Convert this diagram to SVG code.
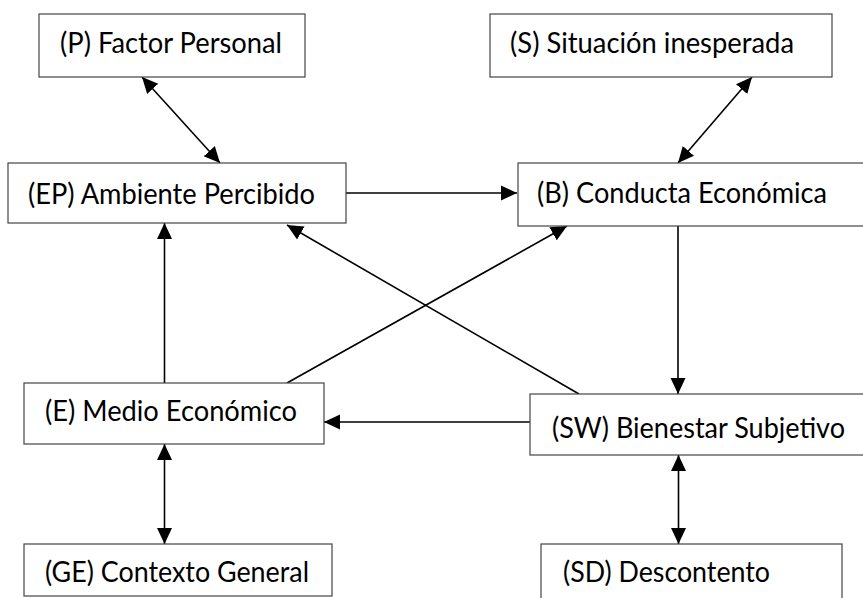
<svg xmlns="http://www.w3.org/2000/svg" width="863" height="598" viewBox="0 0 863 598">
<style>
.box{fill:#fff;stroke:#444;stroke-width:1.2}
.lbl{font-family:Lato,"Open Sans",sans-serif;font-size:28px;fill:#000}
.ln{stroke:#000;stroke-width:1.6;fill:none}
</style>
<defs>
<marker id="ah" markerUnits="userSpaceOnUse" markerWidth="16" markerHeight="16" viewBox="0 0 16 16" refX="16" refY="8" orient="auto-start-reverse">
<path d="M0,0.5 L16,8 L0,15.5 Z" fill="#000"/>
</marker>
</defs>
<rect width="863" height="598" fill="#fff"/>
<g id="connectors">
<line class="ln" x1="142" y1="77" x2="220" y2="163" marker-start="url(#ah)" marker-end="url(#ah)"/>
<line class="ln" x1="752" y1="77" x2="678" y2="163" marker-start="url(#ah)" marker-end="url(#ah)"/>
<line class="ln" x1="346" y1="193" x2="517" y2="193" marker-end="url(#ah)"/>
<line class="ln" x1="678" y1="226" x2="678" y2="394" marker-end="url(#ah)"/>
<line class="ln" x1="530" y1="422" x2="324" y2="422" marker-end="url(#ah)"/>
<line class="ln" x1="164.5" y1="383" x2="164.5" y2="223" marker-end="url(#ah)"/>
<line class="ln" x1="287" y1="383" x2="567" y2="226" marker-end="url(#ah)"/>
<line class="ln" x1="579" y1="394" x2="287" y2="225" marker-end="url(#ah)"/>
<line class="ln" x1="164.5" y1="444" x2="164.5" y2="544" marker-start="url(#ah)" marker-end="url(#ah)"/>
<line class="ln" x1="678.5" y1="455" x2="678.5" y2="544" marker-start="url(#ah)" marker-end="url(#ah)"/>
</g>
<g id="node-P"><rect class="box" x="39" y="14" width="266" height="63"/><text class="lbl" x="60" y="53" textLength="222" lengthAdjust="spacingAndGlyphs">(P) Factor Personal</text></g>
<g id="node-S"><rect class="box" x="490" y="14" width="342" height="63"/><text class="lbl" x="510" y="53" textLength="284" lengthAdjust="spacingAndGlyphs">(S) Situación inesperada</text></g>
<g id="node-EP"><rect class="box" x="8" y="163" width="338" height="60"/><text class="lbl" x="28" y="204" textLength="287" lengthAdjust="spacingAndGlyphs">(EP) Ambiente Percibido</text></g>
<g id="node-B"><rect class="box" x="518" y="163" width="360" height="63"/><text class="lbl" x="537" y="203" textLength="290" lengthAdjust="spacingAndGlyphs">(B) Conducta Económica</text></g>
<g id="node-E"><rect class="box" x="24" y="383" width="300" height="61"/><text class="lbl" x="45" y="421" textLength="252" lengthAdjust="spacingAndGlyphs">(E) Medio Económico</text></g>
<g id="node-SW"><rect class="box" x="530" y="394" width="350" height="61"/><text class="lbl" x="552" y="438" textLength="293" lengthAdjust="spacingAndGlyphs">(SW) Bienestar Subjetivo</text></g>
<g id="node-GE"><rect class="box" x="24" y="544" width="308" height="52"/><text class="lbl" x="45" y="582" textLength="264" lengthAdjust="spacingAndGlyphs">(GE) Contexto General</text></g>
<g id="node-SD"><rect class="box" x="541" y="544" width="301" height="70"/><text class="lbl" x="563" y="582" textLength="207" lengthAdjust="spacingAndGlyphs">(SD) Descontento</text></g>
</svg>
